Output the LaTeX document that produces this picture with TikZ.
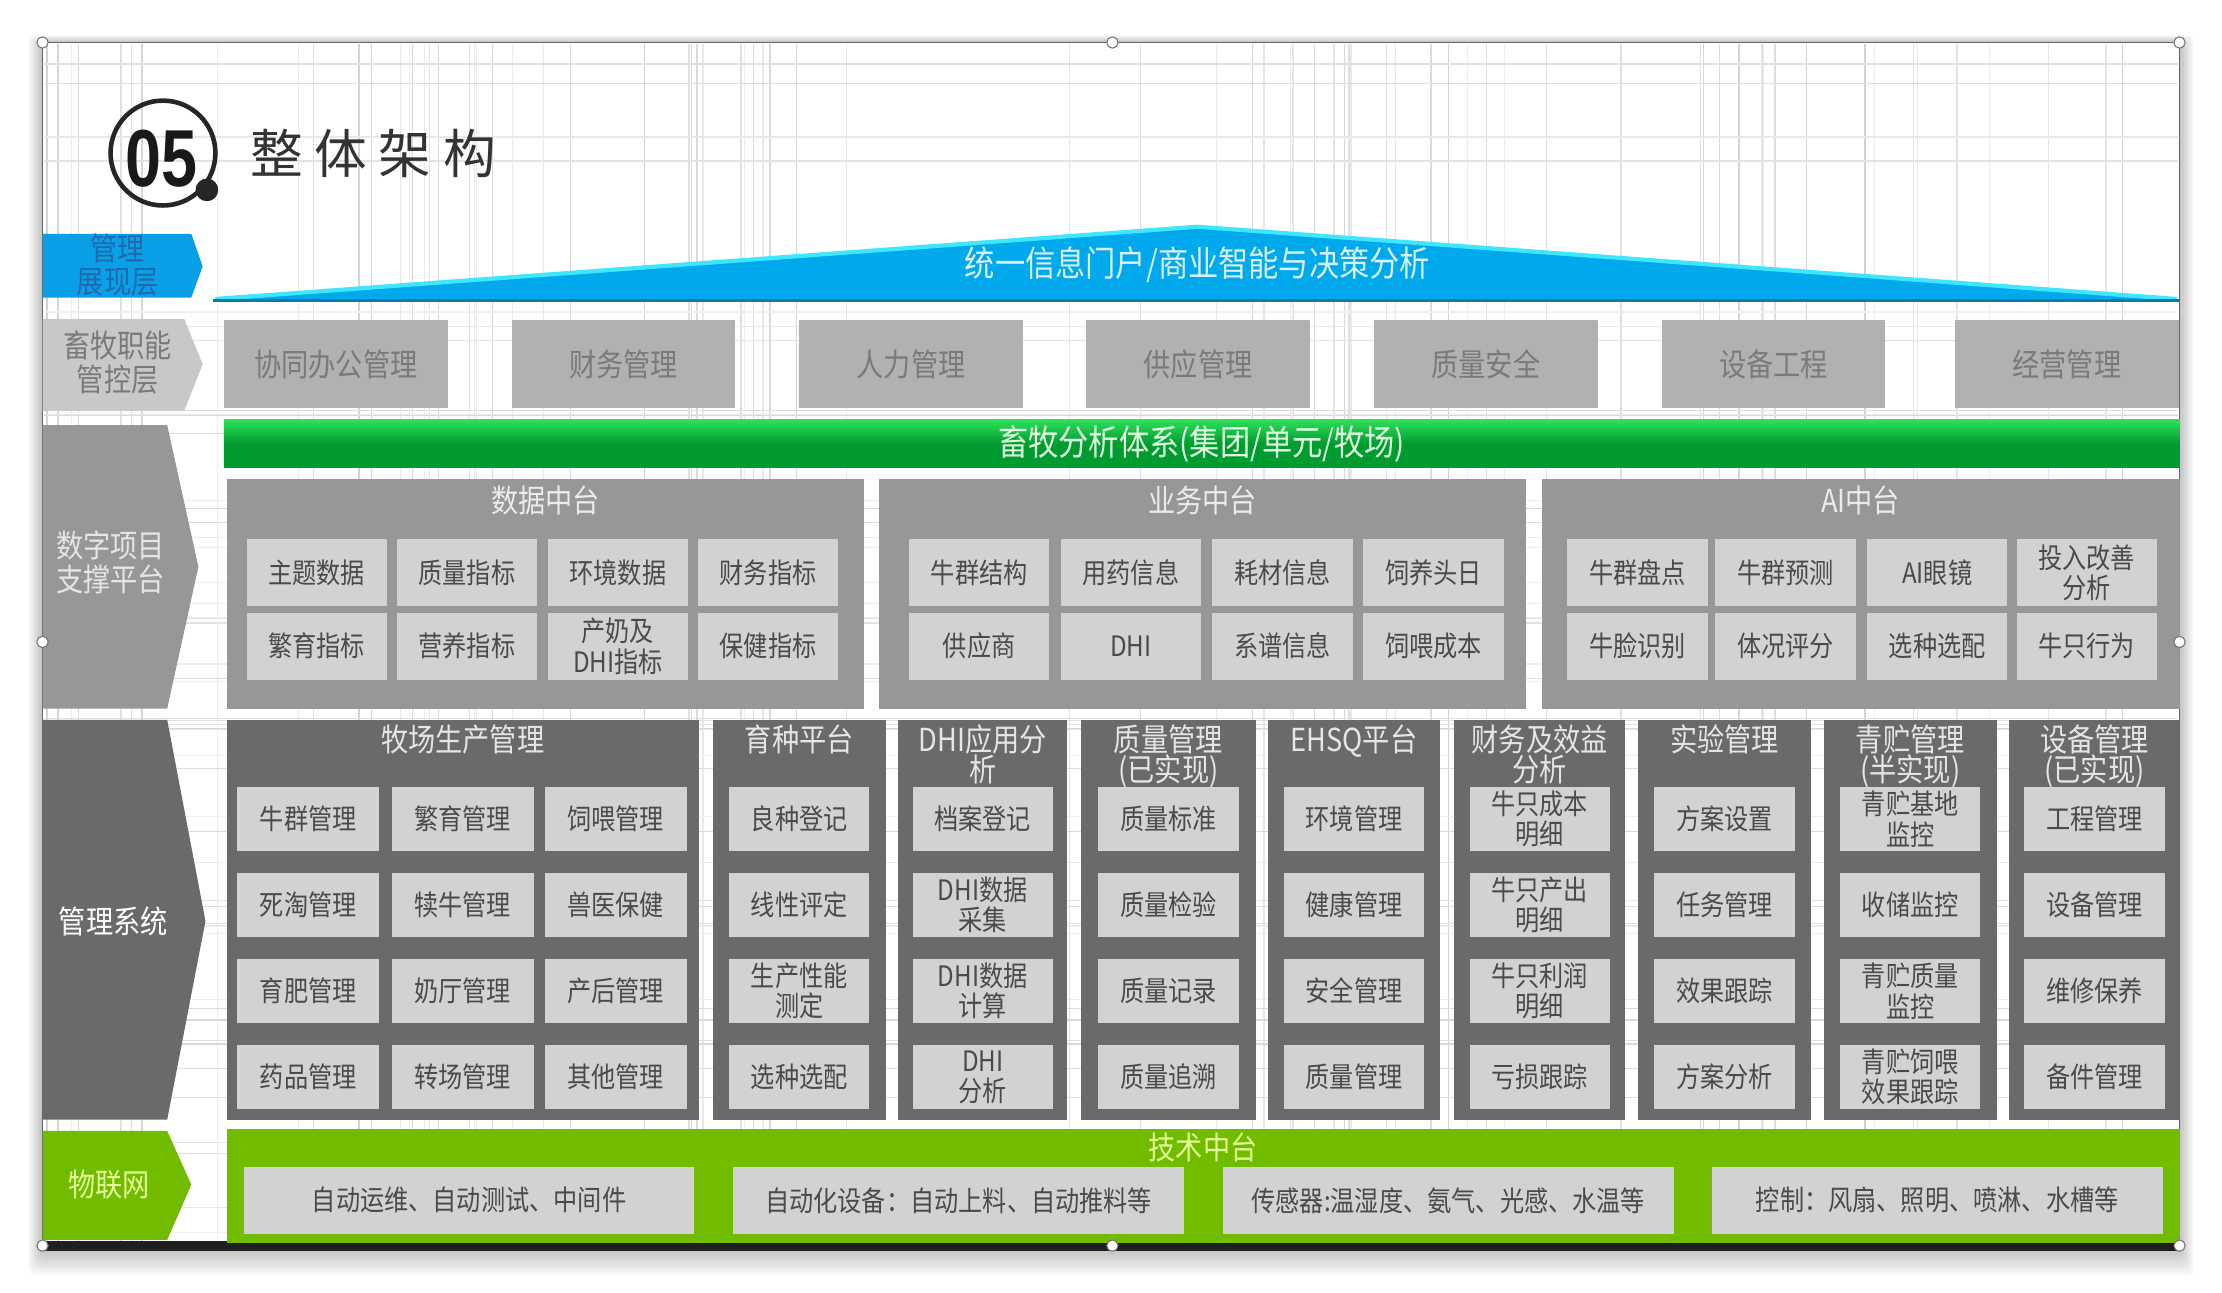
\documentclass[tikz,border=0pt]{standalone}
\usepackage{fontspec}
\setmainfont{Noto Sans CJK SC}[FakeStretch=0.86]
\newfontfamily\titlefont{Noto Sans CJK SC}[LetterSpace=22]
\newfontfamily\numfont{Liberation Sans}[FakeStretch=0.8]
\usepackage{xcolor}
\usepackage{tikz}
\usetikzlibrary{positioning}

\definecolor{roofblue}{HTML}{00A8EC}
\definecolor{roofhi}{HTML}{3EE6FF}
\definecolor{roofdark}{HTML}{0A78B0}
\definecolor{labblue}{HTML}{0AA0E8}
\definecolor{labbluetext}{HTML}{1E6AAE}
\definecolor{lightlab}{HTML}{C8C8C8}
\definecolor{menugray}{HTML}{B1B1B1}
\definecolor{menutext}{HTML}{7A7A7A}
\definecolor{bargreen}{HTML}{009C30}
\definecolor{barhi}{HTML}{2FE05A}
\definecolor{midgray}{HTML}{979797}
\definecolor{darkgray}{HTML}{6A6A6A}
\definecolor{cellgray}{HTML}{D2D2D2}
\definecolor{celltext}{HTML}{4A4A4A}
\definecolor{iotgreen}{HTML}{72BC00}
\definecolor{iottext}{HTML}{E2FF9A}

\newlength\pxu
\setlength\pxu{0.1417mm}

\begin{document}
\begin{tikzpicture}[x=0.1417mm,y=-0.1417mm,
  box/.style={inner sep=0pt,align=center,font=\fontsize{8}{8.6}\selectfont},
  menu/.style={box,fill=menugray,text=menutext,minimum width=158*\pxu,minimum height=62*\pxu,font=\fontsize{9}{10}\selectfont},
  panel/.style={box,fill=midgray,minimum height=162*\pxu},
  ptitle/.style={box,text=white!92!black,font=\fontsize{9}{9}\selectfont},
  pcell/.style={box,fill=cellgray,text=celltext,minimum width=99*\pxu,minimum height=47*\pxu},
  syspanel/.style={box,fill=darkgray,minimum height=282*\pxu},
  systitle/.style={box,anchor=north,text=white!90!black,font=\fontsize{9}{8.6}\selectfont},
  mcell/.style={box,fill=cellgray,text=celltext,minimum width=100*\pxu,minimum height=45*\pxu},
  icell/.style={box,fill=cellgray,text=celltext,minimum width=318*\pxu,minimum height=47*\pxu},
  lab/.style={box,font=\fontsize{9}{9.6}\selectfont},
  gridln/.style={line width=0.35pt}
]
\useasboundingbox (0,0) rectangle (1568,912);
\fill[white] (0,0) rectangle (1568,912);

% shadow and frame
\foreach \s in {1,...,10}{
  \fill[black,opacity=0.025,rounded corners=2pt] (30-\s,30-0.5*\s) rectangle (1538+\s,882+1.8*\s);
}
\fill[white] (30,30) rectangle (1538,880);

% paper texture
\pgfmathsetseed{11}
\foreach \i in {1,...,80}{
  \pgfmathsetmacro\gx{32+1504*rnd}
  \pgfmathtruncatemacro\gc{7+12*rnd}
  \draw[gridln,black!\gc] (\gx,31) -- (\gx,879);
}
\foreach \i in {1,...,50}{
  \pgfmathsetmacro\gy{32+846*rnd}
  \pgfmathtruncatemacro\gc{6+10*rnd}
  \draw[gridln,black!\gc] (31,\gy) -- (1537,\gy);
}
\draw[black!60,line width=0.3pt] (30,30) rectangle (1538,880);
\fill[black!88] (30,876) rectangle (1538,883);

% title
\draw[black!85,line width=1.3pt] (115,108) circle[radius=37];
\fill[black!85] (146,134) circle[radius=8];
\node[inner sep=0pt,font=\numfont\bfseries\fontsize{23}{23}\selectfont,text=black!90] (num) at (114,112) {05};
\node[inner sep=0pt,anchor=west,font=\titlefont\fontsize{15}{15}\selectfont,text=black!80] (title) at (176,108) {整体架构};

% left layer labels
\fill[labblue] (30,165) -- (135,165) -- (143,188) -- (135,210) -- (30,210) -- cycle;
\fill[lightlab] (30,225) -- (130,225) -- (143,257) -- (130,290) -- (30,290) -- cycle;
\fill[midgray] (30,300) -- (118,300) -- (140,400) -- (118,500) -- (30,500) -- cycle;
\fill[darkgray] (30,508) -- (118,508) -- (145,650) -- (118,790) -- (30,790) -- cycle;
\fill[iotgreen] (30,798) -- (118,798) -- (135,836) -- (118,875) -- (30,875) -- cycle;
\node[lab,text=labbluetext] (layshow) at (83,187) {管理\\展现层};
\node[lab,text=menutext] (layfun) at (83,256) {畜牧职能\\管控层};
\node[lab,text=white!90!black] (laydig) at (78,397) {数字项目\\支撑平台};
\node[lab,text=white] (laysys) at (80,650) {管理系统};
\node[lab,text=iottext] (layiot) at (77,836) {物联网};

% roof
\fill[roofblue] (150,212) -- (845,159) -- (1538,212) -- cycle;
\draw[roofhi,line width=1.2pt,line join=round] (152,211) -- (845,160) -- (1536,211);
\draw[roofdark,line width=0.9pt] (150,212) -- (1538,212);
\node[box,text=white!85!cyan,font=\fontsize{10}{10}\selectfont] (roof) at (845,187) {统一信息门户/商业智能与决策分析};

% functions
\foreach \cx/\t [count=\i] in {237/协同办公管理,440/财务管理,643/人力管理,845.5/供应管理,1048.5/质量安全,1251.5/设备工程,1458.5/经营管理}{
  \node[menu] (fn\i) at (\cx,257) {\t};
}

% analysis bar
\node[box,top color=barhi,bottom color=bargreen,middle color=bargreen,minimum width=1380*\pxu,minimum height=34*\pxu,text=white!88!green,font=\fontsize{10}{10}\selectfont] (ana) at (848,313) {畜牧分析体系(集团/单元/牧场)};

% platforms
\foreach \cx/\w/\t/\n in {385/450/数据中台/dc,848.5/457/业务中台/bc,1313/450/AI中台/ai}{
  \node[panel,minimum width=\w*\pxu] (\n) at (\cx,419) {};
  \node[ptitle] (\n-t) at (\cx,353) {\t};
}
\foreach \cx/\t [count=\i] in {223.5/主题数据,329.5/质量指标,436/环境数据,542/财务指标,
  691/牛群结构,798/用药信息,905/耗材信息,1011.5/饲养头日,
  1155.5/牛群盘点,1260/牛群预测,1367/AI眼镜,1472.5/{投入改善\\分析}}{
  \node[pcell] (pa\i) at (\cx,404) {\t};
}
\foreach \cx/\t [count=\i] in {223.5/繁育指标,329.5/营养指标,436/{产奶及\\DHI指标},542/保健指标,
  691/供应商,798/DHI,905/系谱信息,1011.5/饲喂成本,
  1155.5/牛脸识别,1260/体况评分,1367/选种选配,1472.5/牛只行为}{
  \node[pcell] (pb\i) at (\cx,456) {\t};
}

% ranch production
\node[syspanel,minimum width=333*\pxu] (farm) at (326.5,649) {};
\node[systitle] (farm-t) at (326.5,511) {牧场生产管理};
\foreach \ra/\rb/\rc [count=\r] in {牛群管理/繁育管理/饲喂管理,死淘管理/犊牛管理/兽医保健,
  育肥管理/奶厅管理/产后管理,药品管理/转场管理/其他管理}{
  \pgfmathsetmacro\cy{578+60.7*(\r-1)}
  \node[mcell] (farm-\r-1) at (217.5,\cy) {\ra};
  \node[mcell] (farm-\r-2) at (326.5,\cy) {\rb};
  \node[mcell] (farm-\r-3) at (434.5,\cy) {\rc};
}

% management systems
\foreach \cx/\w/\ttl/\ca/\cb/\cc/\cd [count=\k] in {
  564/122/{育种平台}/{良种登记}/{线性评定}/{生产性能\\测定}/{选种选配},
  693.5/119/{DHI应用分\\析}/{档案登记}/{DHI数据\\采集}/{DHI数据\\计算}/{DHI\\分析},
  824.5/123/{质量管理\\(已实现)}/{质量标准}/{质量检验}/{质量记录}/{质量追溯},
  955.5/121/{EHSQ平台}/{环境管理}/{健康管理}/{安全管理}/{质量管理},
  1086.5/121/{财务及效益\\分析}/{牛只成本\\明细}/{牛只产出\\明细}/{牛只利润\\明细}/{亏损跟踪},
  1217/122/{实验管理}/{方案设置}/{任务管理}/{效果跟踪}/{方案分析},
  1348/122/{青贮管理\\(半实现)}/{青贮基地\\监控}/{收储监控}/{青贮质量\\监控}/{青贮饲喂\\效果跟踪},
  1478/120/{设备管理\\(已实现)}/{工程管理}/{设备管理}/{维修保养}/{备件管理}}{
  \node[syspanel,minimum width=\w*\pxu] (sys\k) at (\cx,649) {};
  \node[systitle] (sys\k-t) at (\cx,511) {\ttl};
  \foreach \t [count=\r] in {\ca,\cb,\cc,\cd}{
    \pgfmathsetmacro\cy{578+60.7*(\r-1)}
    \node[mcell,minimum width=99*\pxu] (sys\k-\r) at (\cx,\cy) {\t};
  }
}

% technology platform
\node[box,fill=iotgreen,minimum width=1378*\pxu,minimum height=80*\pxu] (tech) at (849,837) {};
\node[box,text=iottext,font=\fontsize{9}{9}\selectfont] (tech-t) at (849,810) {技术中台};
\foreach \cx/\t [count=\i] in {331/自动运维、自动测试、中间件,676.5/自动化设备：自动上料、自动推料等,
  1022/传感器:温湿度、氨气、光感、水温等,1367/控制：风扇、照明、喷淋、水槽等}{
  \node[icell] (io\i) at (\cx,847) {\t};
}

% selection handles
\foreach \p in {(30,30),(785,30),(1538,30),(30,453),(1538,453),(30,879),(785,879),(1538,879)}{
  \draw[black!55,fill=white,line width=0.3pt] \p circle[radius=4];
}
\end{tikzpicture}
\end{document}
